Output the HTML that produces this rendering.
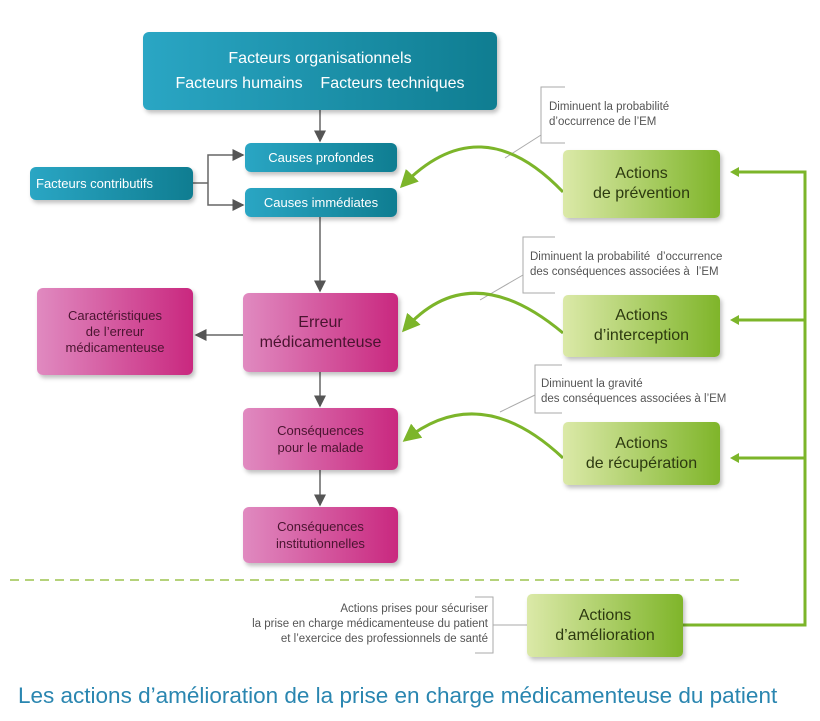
<!DOCTYPE html>
<html><head><meta charset="utf-8"><style>
body{margin:0;width:820px;height:721px;background:#fff;font-family:"Liberation Sans",sans-serif;position:relative;overflow:hidden}
.b{position:absolute;display:flex;align-items:center;justify-content:center;text-align:center;box-sizing:border-box;box-shadow:2px 3px 4px rgba(0,0,0,.25)}
.t{background:linear-gradient(90deg,#2aa6c4,#0f7d91);color:#fff;border-radius:6px}
.p{background:linear-gradient(90deg,#e08ac0,#c9287f);color:#4a1430;border-radius:6px}
.g{background:linear-gradient(90deg,#dbe9a8,#7fb52a);color:#2d3a10;border-radius:5px}
.n{position:absolute;font-size:11.5px;color:#555;line-height:15px}
</style></head><body>
<svg width="820" height="721" style="position:absolute;left:0;top:0">
<defs>
<marker id="a" markerWidth="8" markerHeight="8" refX="7" refY="4" orient="auto"><path d="M0,0L8,4L0,8z" fill="#555"/></marker>
<marker id="ga" markerWidth="6" markerHeight="6" refX="5" refY="3" orient="auto"><path d="M0,0L6,3L0,6z" fill="#7cb52a"/></marker>
</defs>
<g stroke="#666" stroke-width="1.5" fill="none">
<line x1="320" y1="110" x2="320" y2="141" marker-end="url(#a)"/>
<line x1="320" y1="217" x2="320" y2="291" marker-end="url(#a)"/>
<line x1="320" y1="372" x2="320" y2="406" marker-end="url(#a)"/>
<line x1="320" y1="470" x2="320" y2="505" marker-end="url(#a)"/>
<line x1="243" y1="335" x2="196" y2="335" marker-end="url(#a)"/>
<polyline points="193,183 208,183"/>
<polyline points="243,155 208,155 208,205 243,205"/>
<line x1="236" y1="155" x2="243" y2="155" marker-end="url(#a)"/>
<line x1="236" y1="205" x2="243" y2="205" marker-end="url(#a)"/>
</g>
<g stroke="#aaa" stroke-width="1" fill="none">
<polyline points="565,87 541,87 541,143 565,143"/><line x1="541" y1="135" x2="505" y2="158"/>
<polyline points="555,237 523,237 523,293 555,293"/><line x1="523" y1="275" x2="480" y2="300"/>
<polyline points="562,365 535,365 535,413 562,413"/><line x1="535" y1="395" x2="500" y2="412"/>
<polyline points="475,597 493,597 493,653 475,653"/><line x1="493" y1="625" x2="527" y2="625"/>
</g>
<g stroke="#7cb52a" stroke-width="3" fill="none">
<path d="M563,192 Q480,105 402,186" marker-end="url(#ga)"/>
<path d="M563,333 Q470,255 404,330" marker-end="url(#ga)"/>
<path d="M563,458 Q480,380 405,440" marker-end="url(#ga)"/>
<polyline points="683,625 805,625 805,172 735,172"/>
<line x1="805" y1="320" x2="735" y2="320"/>
<line x1="805" y1="458" x2="735" y2="458"/>
</g>
<g fill="#7cb52a"><path d="M730,172l9,-5v10z"/><path d="M730,320l9,-5v10z"/><path d="M730,458l9,-5v10z"/></g>
<line x1="10" y1="580" x2="742" y2="580" stroke="#b5d27a" stroke-width="2" stroke-dasharray="9,6"/>
</svg>
<div class="b t" style="left:143px;top:32px;width:354px;height:78px;font-size:16px;line-height:25px;flex-direction:column">Facteurs organisationnels<br>Facteurs humains&nbsp;&nbsp;&nbsp; Facteurs techniques</div>
<div class="b t" style="left:245px;top:143px;width:152px;height:29px;font-size:13px">Causes profondes</div>
<div class="b t" style="left:245px;top:188px;width:152px;height:29px;font-size:13px">Causes immédiates</div>
<div class="b t" style="left:30px;top:167px;width:163px;height:33px;font-size:13px;justify-content:flex-start;padding-left:6px">Facteurs contributifs</div>
<div class="b p" style="left:243px;top:293px;width:155px;height:79px;font-size:16px;line-height:20px">Erreur<br>médicamenteuse</div>
<div class="b p" style="left:37px;top:288px;width:156px;height:87px;font-size:13px;line-height:16px">Caractéristiques<br>de l’erreur<br>médicamenteuse</div>
<div class="b p" style="left:243px;top:408px;width:155px;height:62px;font-size:13px;line-height:17px">Conséquences<br>pour le malade</div>
<div class="b p" style="left:243px;top:507px;width:155px;height:56px;font-size:13px;line-height:17px">Conséquences<br>institutionnelles</div>
<div class="b g" style="left:563px;top:150px;width:157px;height:68px;font-size:16px;line-height:20px">Actions<br>de prévention</div>
<div class="b g" style="left:563px;top:295px;width:157px;height:62px;font-size:16px;line-height:20px">Actions<br>d’interception</div>
<div class="b g" style="left:563px;top:422px;width:157px;height:63px;font-size:16px;line-height:20px">Actions<br>de récupération</div>
<div class="b g" style="left:527px;top:594px;width:156px;height:63px;font-size:16px;line-height:20px">Actions<br>d’amélioration</div>
<div class="n" style="left:549px;top:100px">Diminuent la probabilité<br>d’occurrence de l’EM</div>
<div class="n" style="left:530px;top:250px">Diminuent la probabilité&nbsp; d’occurrence<br>des conséquences associées à&nbsp; l’EM</div>
<div class="n" style="left:541px;top:377px">Diminuent la gravité<br>des conséquences associées à l’EM</div>
<div class="n" style="left:170px;top:602px;text-align:right;width:318px">Actions prises pour sécuriser<br>la prise en charge médicamenteuse du patient<br>et l’exercice des professionnels de santé</div>
<div style="position:absolute;left:18px;top:683px;font-size:22.5px;color:#2a86b0;white-space:nowrap">Les actions d’amélioration de la prise en charge médicamenteuse du patient</div>
</body></html>
